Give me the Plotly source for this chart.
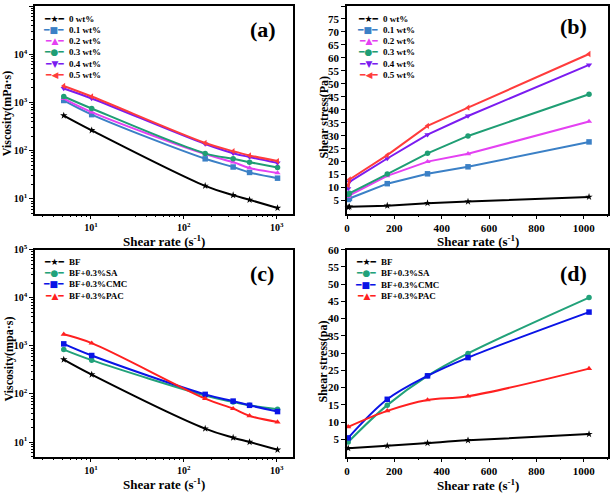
import plotly.graph_objects as go

# ---------------- data ----------------
rate = [5.1, 10.2, 170, 340, 511, 1022]
rate_d = [5.1, 170, 340, 511, 1022]

names_ab = ["0 wt%", "0.1 wt%", "0.2 wt%", "0.3 wt%", "0.4 wt%", "0.5 wt%"]
visc_0 = [537, 265, 18.7, 12.0, 9.6, 6.5]
visc_01 = [1100, 560, 68, 46, 35.5, 27]
visc_02 = [1200, 630, 85, 58, 44, 34.7]
visc_03 = [1330, 750, 88, 68, 58, 45]
visc_04 = [1950, 1210, 138, 89, 74, 56]
visc_05 = [2200, 1330, 145, 98, 80, 61]

stress_0 = [2.4, 2.6, 3.0, 4.0, 4.6, 6.4]
stress_01 = [5.4, 5.8, 11.5, 15.3, 18.0, 27.6]
stress_02 = [6.5, 7.0, 14.5, 20.0, 23.0, 35.5]
stress_03 = [7.3, 7.8, 15.2, 23.2, 29.9, 46.0]
stress_04 = [9.6, 12.2, 21.2, 30.4, 37.6, 57.3]
stress_05 = [10.9, 13.1, 22.5, 33.8, 40.8, 61.5]

names_cd = ["BF", "BF+0.3%SA", "BF+0.3%CMC", "BF+0.3%PAC"]
visc_bf = [519, 253, 19, 12.3, 10, 6.9]
visc_sa = [836, 505, 93, 68, 58, 48]
visc_cmc = [1100, 630, 98, 71, 58, 43]
visc_pac = [1740, 1140, 80, 49.5, 35, 26]

stress_bf = [2.4, 3.1, 3.9, 4.7, 6.5]
stress_sa = [4.2, 14.9, 23.4, 29.9, 46.1]
stress_cmc = [5.4, 16.6, 23.4, 28.7, 41.9]
stress_pac = [8.6, 13.25, 16.4, 17.5, 25.5]

log_x_ticks = [10, 100, 1000]
log_x_text = ["10<sup>1</sup>", "10<sup>2</sup>", "10<sup>3</sup>"]
log_y_ticks = [10, 100, 1000, 10000, 100000]
log_y_text = ["10<sup>1</sup>", "10<sup>2</sup>", "10<sup>3</sup>", "10<sup>4</sup>", "10<sup>5</sup>"]
lin_x_ticks = [0, 200, 400, 600, 800, 1000]
b_y_ticks = list(range(5, 81, 5))
d_y_ticks = list(range(5, 61, 5))

x_title = "Shear rate (s<sup>-1</sup>)"
y_titles = ["Viscosity(mPa\u00b7s)", "Shear stress(Pa)", "Viscosity(mpa\u00b7s)", "Shear stress(pa)"]

# ---------------- styles ----------------
FONT = "Liberation Serif, Times New Roman, serif"
W, H = 611, 494
cols_ab = ["#000000", "#3B80C6", "#E441F2", "#1F9E74", "#7B1CF0", "#FF3C3C"]
syms_ab = ["star", "square", "triangle-up", "circle", "triangle-down", "triangle-left"]
glyph_ab = ["\u2605", "\u25A0", "\u25B2", "\u25CF", "\u25BC", "\u25C0"]
cols_cd = ["#000000", "#22A27A", "#0A14E6", "#FF2020"]
syms_cd = ["star", "circle", "square", "triangle-up"]
glyph_cd = ["\u2605", "\u25CF", "\u25A0", "\u25B2"]

fig = go.Figure()


def add_series(xs, ys_list, cols, syms, xa, ya, shape):
    for ys, c, s in zip(ys_list, cols, syms):
        fig.add_trace(go.Scatter(
            x=xs, y=ys, xaxis=xa, yaxis=ya, mode="lines+markers",
            line=dict(color=c, width=2, shape=shape, smoothing=1.0),
            marker=dict(symbol=s, size=5.5, color=c),
            cliponaxis=False, showlegend=False))


add_series(rate, [visc_0, visc_01, visc_02, visc_03, visc_04, visc_05], cols_ab, syms_ab, "x", "y", "spline")
add_series(rate, [stress_0, stress_01, stress_02, stress_03, stress_04, stress_05], cols_ab, syms_ab, "x2", "y2", "linear")
add_series(rate, [visc_bf, visc_sa, visc_cmc, visc_pac], cols_cd, syms_cd, "x3", "y3", "spline")
add_series(rate_d, [stress_bf, stress_sa, stress_cmc, stress_pac], cols_cd, syms_cd, "x4", "y4", "spline")

tickfont = dict(family=FONT, size=11, color="black", weight="bold")
logtickfont = dict(family=FONT, size=10, color="black", weight="bold")
xtitlefont = dict(family=FONT, size=13, color="black", weight="bold")
ytitlefont = dict(family=FONT, size=12, color="black", weight="bold")


def minor_log(decades):
    vals = []
    for d in decades:
        for k in range(2, 10):
            vals.append(k * 10 ** d)
    return vals


def base_axis(domain, anchor):
    return dict(domain=domain, anchor=anchor, showline=True, linecolor="black",
                linewidth=1.5, mirror=True, ticks="outside", ticklen=4, tickwidth=1,
                tickcolor="black", showgrid=False, zeroline=False, tickfont=tickfont)


xL = [35 / W, 293 / W]
xR = [347 / W, 607.5 / W]
yT = [1 - 213.5 / H, 1 - 6 / H]
yB = [1 - 456.5 / H, 1 - 249.7 / H]


def log_x(domain, anchor):
    a = base_axis(domain, anchor)
    a.update(type="log", range=[0.398, 3.176], tickvals=log_x_ticks, ticktext=log_x_text,
             tickfont=logtickfont,
             minor=dict(ticks="outside", ticklen=2, tickcolor="black", tickvals=minor_log([0, 1, 2, 3])))
    return a

def log_y(domain, anchor):
    a = base_axis(domain, anchor)
    a.update(type="log", range=[0.699, 5], tickvals=log_y_ticks, ticktext=log_y_text,
             tickfont=logtickfont,
             minor=dict(ticks="outside", ticklen=2, tickcolor="black", tickvals=minor_log([0, 1, 2, 3, 4])))
    return a

def lin_x(domain, anchor):
    a = base_axis(domain, anchor)
    a.update(range=[0, 1100], tickvals=lin_x_ticks,
             minor=dict(ticks="outside", ticklen=2, tickcolor="black", dtick=100, tick0=0))
    return a

def lin_y(domain, anchor, rng, ticks):
    a = base_axis(domain, anchor)
    a.update(range=rng, tickvals=ticks)
    return a


fig.update_layout(
    width=W, height=H, margin=dict(l=0, r=0, t=0, b=0, autoexpand=False),
    paper_bgcolor="white", plot_bgcolor="white",
    font=dict(family=FONT, color="black", weight="bold"),
    xaxis=log_x(xL, "y"), yaxis=log_y(yT, "x"),
    xaxis2=lin_x(xR, "y2"), yaxis2=lin_y(yT, "x2", [0, 80], b_y_ticks),
    xaxis3=log_x(xL, "y3"), yaxis3=log_y(yB, "x3"),
    xaxis4=lin_x(xR, "y4"), yaxis4=lin_y(yB, "x4", [0, 60], d_y_ticks),
)

ann = []

def text_at(text, cx, cy, font, angle=0):
    ann.append(dict(text=text, x=cx / W, y=1 - cy / H, xref="paper", yref="paper",
                    xanchor="center", yanchor="middle", showarrow=False, textangle=angle,
                    font=font))

big = dict(family=FONT, size=22, color="black", weight="bold")
text_at("(a)", 262.7, 29.3, big)
text_at("(b)", 573.3, 26.7, big)
text_at("(c)", 261.7, 273.7, big)
text_at("(d)", 573.0, 273.7, big)

# axis titles
text_at(x_title, 163.7, 240.5, xtitlefont)
text_at(x_title, 478.3, 240.5, xtitlefont)
text_at(x_title, 164.0, 484.0, xtitlefont)
text_at(x_title, 478.0, 484.5, xtitlefont)
text_at(y_titles[0], 7.0, 113.3, ytitlefont, -90)
text_at(y_titles[1], 323.0, 117.5, ytitlefont, -90)
text_at(y_titles[2], 8.0, 359.5, ytitlefont, -90)
text_at(y_titles[3], 322.5, 362.0, ytitlefont, -90)


def legend(names, cols, glyphs, key_right, y0, step):
    for i, (n, c, g) in enumerate(zip(names, cols, glyphs)):
        y = 1 - (y0 + i * step) / H
        ann.append(dict(text="\u2501" + g + "\u2501", x=key_right / W, y=y, xref="paper", yref="paper",
                        xanchor="right", yanchor="middle", showarrow=False,
                        font=dict(family="DejaVu Sans", size=9, color=c)))
        ann.append(dict(text=n, x=(key_right + 1) / W, y=y, xref="paper", yref="paper",
                        xanchor="left", yanchor="middle", showarrow=False,
                        font=dict(family=FONT, size=9, color="black", weight="bold")))

legend(names_ab, cols_ab, glyph_ab, 66, 18.5, 11.3)
legend(names_ab, cols_ab, glyph_ab, 380, 18.5, 11.3)
legend(names_cd, cols_cd, glyph_cd, 65.5, 262, 11.2)
legend(names_cd, cols_cd, glyph_cd, 378, 262, 11.3)

fig.update_layout(annotations=ann)
fig.write_html("out.html", config={"displayModeBar": False},
               post_script="document.body.style.margin='0px';")
